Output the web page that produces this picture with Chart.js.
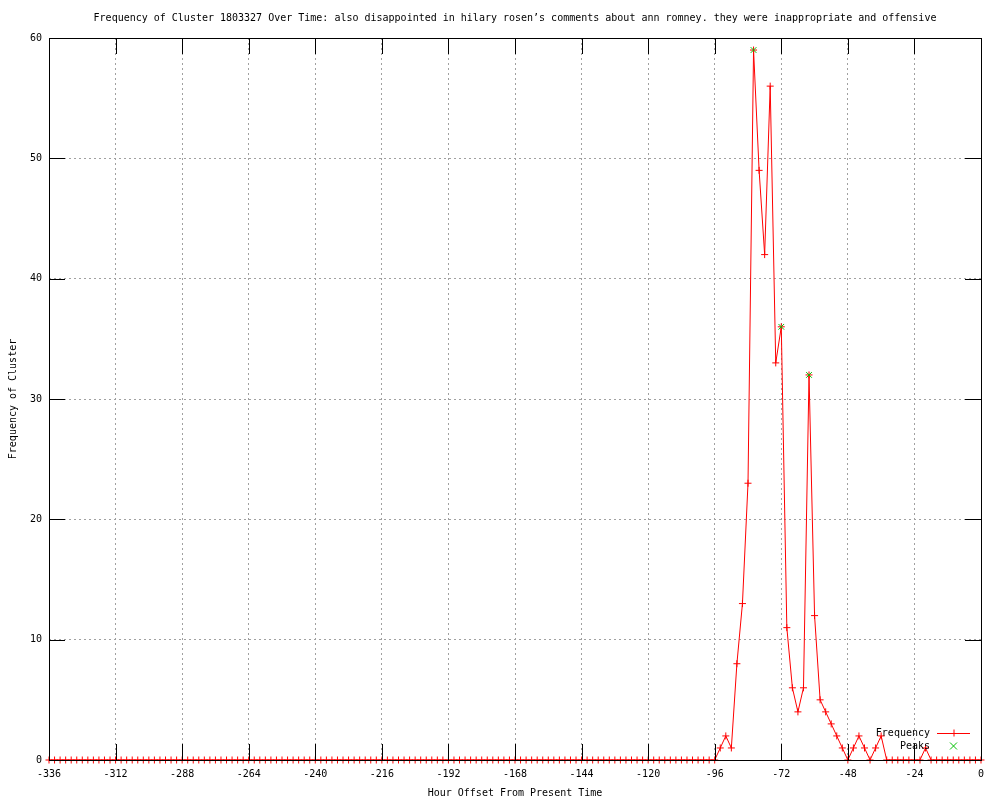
<!DOCTYPE html>
<html><head><meta charset="utf-8">
<script src="https://cdn.jsdelivr.net/npm/chart.js@4/dist/chart.umd.min.js"></script>
<style>html,body{margin:0;padding:0;background:#fff}canvas{display:block}</style>
</head><body>
<canvas id="c" width="1000" height="800"></canvas>
<script>
const chartTitle = "Frequency of Cluster 1803327 Over Time: also disappointed in hilary rosen\u2019s comments about ann romney. they were inappropriate and offensive";
const xTitle = "Hour Offset From Present Time";
const yTitle = "Frequency of Cluster";

const hours = [
  -336,-334,-332,-330,-328,-326,-324,-322,-320,-318,-316,-314,
  -312,-310,-308,-306,-304,-302,-300,-298,-296,-294,-292,-290,
  -288,-286,-284,-282,-280,-278,-276,-274,-272,-270,-268,-266,
  -264,-262,-260,-258,-256,-254,-252,-250,-248,-246,-244,-242,
  -240,-238,-236,-234,-232,-230,-228,-226,-224,-222,-220,-218,
  -216,-214,-212,-210,-208,-206,-204,-202,-200,-198,-196,-194,
  -192,-190,-188,-186,-184,-182,-180,-178,-176,-174,-172,-170,
  -168,-166,-164,-162,-160,-158,-156,-154,-152,-150,-148,-146,
  -144,-142,-140,-138,-136,-134,-132,-130,-128,-126,-124,-122,
  -120,-118,-116,-114,-112,-110,-108,-106,-104,-102,-100,-98,
  -96,-94,-92,-90,-88,-86,-84,-82,-80,-78,-76,-74,
  -72,-70,-68,-66,-64,-62,-60,-58,-56,-54,-52,-50,
  -48,-46,-44,-42,-40,-38,-36,-34,-32,-30,-28,-26,
  -24,-22,-20,-18,-16,-14,-12,-10,-8,-6,-4,-2,
  0
];
const frequency = [
  0,0,0,0,0,0,0,0,0,0,0,0,
  0,0,0,0,0,0,0,0,0,0,0,0,
  0,0,0,0,0,0,0,0,0,0,0,0,
  0,0,0,0,0,0,0,0,0,0,0,0,
  0,0,0,0,0,0,0,0,0,0,0,0,
  0,0,0,0,0,0,0,0,0,0,0,0,
  0,0,0,0,0,0,0,0,0,0,0,0,
  0,0,0,0,0,0,0,0,0,0,0,0,
  0,0,0,0,0,0,0,0,0,0,0,0,
  0,0,0,0,0,0,0,0,0,0,0,0,
  0,1,2,1,8,13,23,59,49,42,56,33,
  36,11,6,4,6,32,12,5,4,3,2,1,
  0,1,2,1,0,1,2,0,0,0,0,0,
  0,0,1,0,0,0,0,0,0,0,0,0,
  0
];
const peakHours = [-82, -72, -62];
const peakValues = [59, 36, 32];

const xTickValues = [-336,-312,-288,-264,-240,-216,-192,-168,-144,-120,-96,-72,-48,-24,0];
const yTickValues = [0,10,20,30,40,50,60];

const FONT = "'DejaVu Sans Mono', 'Liberation Mono', monospace";
Chart.defaults.font.family = FONT;
Chart.defaults.font.size = 10;
Chart.defaults.color = '#000';

const RED = '#ff0000';
const GREEN = '#00c000';

const framePlugin = {
  id: 'frame',
  afterDatasetsDraw(chart) {
    const {ctx, chartArea: a, scales: {x, y}} = chart;
    const L = 16;
    ctx.save();
    ctx.setLineDash([]);
    ctx.strokeStyle = '#000';
    ctx.lineWidth = 1;
    ctx.beginPath();
    x.ticks.forEach(t => {
      const px = Math.round(x.getPixelForValue(t.value)) + 0.5;
      ctx.moveTo(px, a.bottom); ctx.lineTo(px, a.bottom - L);
      ctx.moveTo(px, a.top); ctx.lineTo(px, a.top + L);
    });
    y.ticks.forEach(t => {
      const py = Math.round(y.getPixelForValue(t.value)) + 0.5;
      ctx.moveTo(a.left, py); ctx.lineTo(a.left + L, py);
      ctx.moveTo(a.right, py); ctx.lineTo(a.right - L, py);
    });
    ctx.stroke();
    ctx.strokeRect(Math.round(a.left) + 0.5, Math.round(a.top) + 0.5,
                   Math.round(a.right - a.left), Math.round(a.bottom - a.top));

    // legend (inside plot, lower right)
    const ds = chart.data.datasets;
    const textRight = a.right - 51;
    const sx0 = a.right - 44, sx1 = a.right - 11, smid = (sx0 + sx1) / 2;
    const rows = [ds.find(d => d.id === 'freq'), ds.find(d => d.id === 'peaks')];
    ctx.font = '10px ' + FONT;
    ctx.textAlign = 'right';
    ctx.textBaseline = 'middle';
    rows.forEach((d, i) => {
      const ry = a.bottom - 27 + i * 13;
      ctx.fillStyle = '#000';
      ctx.fillText(d.label, textRight, ry);
      ctx.strokeStyle = d.borderColor;
      ctx.lineWidth = 1;
      ctx.beginPath();
      if (d.showLine) {
        ctx.moveTo(sx0, ry + 0.5); ctx.lineTo(sx1, ry + 0.5);
        ctx.moveTo(smid - 3.5, ry + 0.5); ctx.lineTo(smid + 3.5, ry + 0.5);
        ctx.moveTo(smid + 0.5, ry - 3.5); ctx.lineTo(smid + 0.5, ry + 3.5);
      } else {
        ctx.moveTo(smid - 3.5, ry - 3.5); ctx.lineTo(smid + 3.5, ry + 3.5);
        ctx.moveTo(smid - 3.5, ry + 3.5); ctx.lineTo(smid + 3.5, ry - 3.5);
      }
      ctx.stroke();
    });
    ctx.restore();
  }
};

new Chart(document.getElementById('c'), {
  type: 'scatter',
  data: {
    datasets: [
      {
        id: 'peaks',
        label: 'Peaks',
        data: peakHours.map((h, i) => ({x: h, y: peakValues[i]})),
        showLine: false,
        pointStyle: 'crossRot',
        pointRadius: 4,
        borderColor: GREEN,
        backgroundColor: GREEN,
        pointBorderWidth: 1,
        clip: false,
        order: 0
      },
      {
        id: 'freq',
        label: 'Frequency',
        data: hours.map((h, i) => ({x: h, y: frequency[i]})),
        showLine: true,
        borderColor: RED,
        backgroundColor: RED,
        borderWidth: 1,
        tension: 0,
        pointStyle: 'cross',
        pointRadius: 3.5,
        pointBorderWidth: 1,
        clip: false,
        order: 1
      }
    ]
  },
  options: {
    responsive: false,
    animation: false,
    events: [],
    layout: {padding: {left: 0, right: 19, top: 0, bottom: 0}},
    plugins: {
      legend: {display: false},
      tooltip: {enabled: false},
      title: {
        display: true,
        text: chartTitle,
        fullSize: false,
        font: {family: FONT, size: 10, weight: 'normal'},
        color: '#000',
        padding: {top: 12, bottom: 14}
      }
    },
    scales: {
      x: {
        type: 'linear',
        min: -336, max: 0,
        afterBuildTicks: s => { s.ticks = xTickValues.map(v => ({value: v})); },
        afterFit: s => { s.height = 40; },
        ticks: {padding: 8, maxRotation: 0, autoSkip: false, font: {size: 10}},
        grid: {color: '#a0a0a0', lineWidth: 1, drawTicks: false},
        border: {display: false, dash: [2, 3]},
        title: {display: true, text: xTitle, font: {size: 10}, padding: {top: 0, bottom: 1}}
      },
      y: {
        type: 'linear',
        min: 0, max: 60,
        afterBuildTicks: s => { s.ticks = yTickValues.map(v => ({value: v})); },
        afterFit: s => { s.width = 49; },
        ticks: {padding: 7, font: {size: 10}},
        grid: {color: '#a0a0a0', lineWidth: 1, drawTicks: false},
        border: {display: false, dash: [2, 3]},
        title: {display: true, text: yTitle, font: {size: 10}, padding: {top: 7, bottom: 0}}
      }
    }
  },
  plugins: [framePlugin]
});
</script>
</body></html>
